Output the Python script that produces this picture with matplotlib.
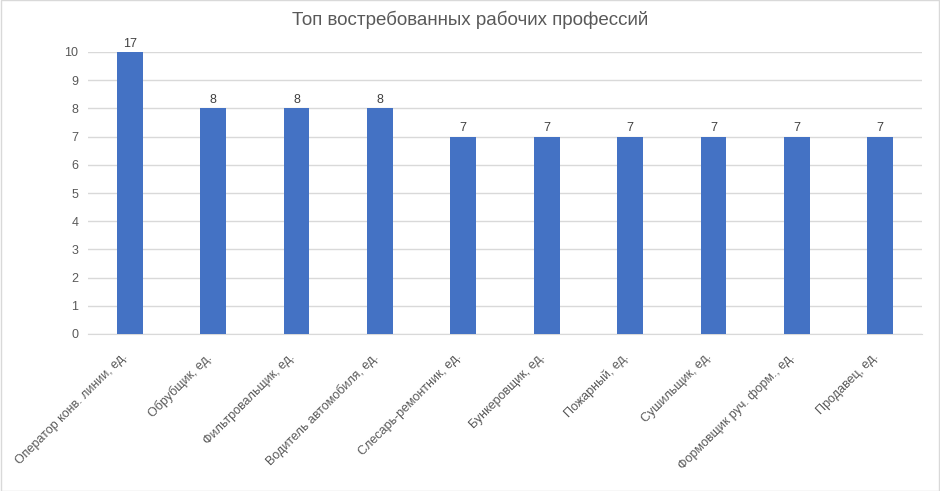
import numpy as np
import matplotlib.pyplot as plt
import matplotlib.transforms as mtransforms

plt.rcParams['font.family'] = ['Liberation Sans', 'DejaVu Sans']

# данные
professions = ["Оператор конв. линии, ед.", "Обрубщик, ед.", "Фильтровальщик, ед.",
               "Водитель автомобиля, ед.", "Слесарь-ремонтник, ед.", "Бункеровщик, ед.",
               "Пожарный, ед.", "Сушильщик, ед.", "Формовщик руч. форм., ед.", "Продавец, ед."]
counts = [17, 8, 8, 8, 7, 7, 7, 7, 7, 7]
y_max = 10

grey = '#595959'
fig = plt.figure(figsize=(9.4, 4.91), dpi=100)
ax = fig.add_axes([88/940, 1-334/491, 834/940, (334-52)/491])

x = np.arange(len(professions))
ax.bar(x, counts, width=0.31, color='#4472c4', zorder=3)
for xi, c in zip(x, counts):
    ax.text(xi, min(c, y_max) + 0.08, str(c), ha='center', va='bottom',
            fontsize=9, color='#404040', clip_on=False)

ax.set_xlim(-0.5, len(professions) - 0.5)
ax.set_ylim(0, y_max)
ax.set_yticks(range(0, y_max + 1))
ax.yaxis.grid(True, color='#d9d9d9', linewidth=1, zorder=0)
ax.tick_params(axis='y', length=0, labelsize=9, labelcolor=grey, pad=7)
ax.tick_params(axis='x', length=0)
for s in ['top', 'right', 'left']:
    ax.spines[s].set_visible(False)
ax.spines['bottom'].set_color('#d9d9d9')

ax.set_xticks(x)
ax.set_xticklabels(professions, rotation=45, ha='right', rotation_mode='anchor',
                   fontsize=9, color=grey)
offset = mtransforms.ScaledTranslation(-8/100, -12/100, fig.dpi_scale_trans)
for lbl in ax.get_xticklabels():
    lbl.set_transform(lbl.get_transform() + offset)

fig.text(470/940, 1-20/491, "Топ востребованных рабочих профессий", ha='center', va='center',
         fontsize=13.5, color=grey)

fig.patches.append(plt.Rectangle((0.001, 0.001), 0.998, 0.998, transform=fig.transFigure,
                                 fill=False, edgecolor='#d9d9d9', linewidth=1))
fig.savefig('out.png', dpi=100)
